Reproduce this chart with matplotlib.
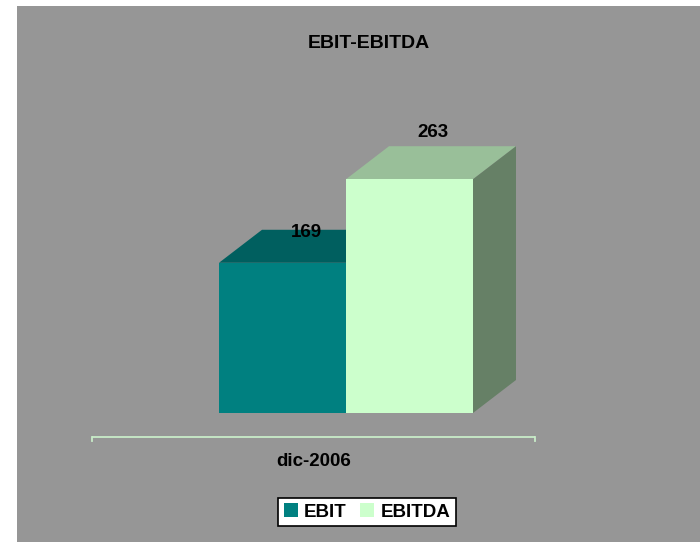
import numpy as np
import matplotlib
matplotlib.use("Agg")
from matplotlib import pyplot as plt
from matplotlib.patches import Polygon, Rectangle

# data
categories = ["dic-2006"]
series_names = ["EBIT", "EBITDA"]
series_values = [169, 263]
title_text = "EBIT-EBITDA"

# styles
front_colors = ["#008080", "#ccffcc"]
top_colors = ["#005f5f", "#99bf99"]
side_colors = ["#004d4d", "#668066"]
label_lift_px = [-3, 14]  # lift of value labels above the back edge
bg_color = "#969696"
axis_color = "#c8ecc8"

plt.rcParams['font.family'] = ['Liberation Sans', 'DejaVu Sans']

W, H = 700, 542
fig = plt.figure(figsize=(W / 100, H / 100), dpi=100)
fig.patch.set_facecolor("white")
# gray chart area
fig.patches.append(Rectangle((17 / W, 0), 1 - 17 / W, 1 - 6 / H,
        transform=fig.transFigure, facecolor=bg_color, edgecolor="none",
        zorder=-5))

# axes: x pixel 92..535, y value 0 at pixel 413, 0.8889 px per unit
px_per_unit = 0.8889
ymax = 320
ax_left, ax_right = 92, 535
ax_bottom_px = 413
ax_top_px = ax_bottom_px - ymax * px_per_unit
ax = fig.add_axes([ax_left / W, (H - ax_bottom_px) / H,
        (ax_right - ax_left) / W, (ax_bottom_px - ax_top_px) / H])
ax.set_zorder(2)
ax.set_xlim(-0.5, 0.5)
ax.set_ylim(0, ymax)
ax.axis('off')

xscale = ax_right - ax_left  # px per data unit in x
bar_w = 127 / xscale
first_left = (219 - ax_left) / xscale - 0.5
dx = 43 / xscale
dy = 33 / px_per_unit

for i, (name, val) in enumerate(zip(series_names, series_values)):
    left = first_left + i * bar_w
    ax.bar(left, val, width=bar_w, align='edge', color=front_colors[i],
            label=name, zorder=3 + i, clip_on=False, linewidth=0)
    top = Polygon([(left, val), (left + bar_w, val),
            (left + bar_w + dx, val + dy), (left + dx, val + dy)],
            closed=True, facecolor=top_colors[i], edgecolor="none",
            zorder=2 + i, clip_on=False)
    ax.add_patch(top)
    side = Polygon([(left + bar_w, 0), (left + bar_w + dx, dy),
            (left + bar_w + dx, val + dy), (left + bar_w, val)],
            closed=True, facecolor=side_colors[i], edgecolor="none",
            zorder=2 + i, clip_on=False)
    ax.add_patch(side)
    # value label
    ax.text(left + bar_w / 2 + 0.55 * dx,
            val + dy + label_lift_px[i] / px_per_unit, str(val),
            ha='center', va='center', fontsize=13.5, fontweight='bold',
            zorder=10, clip_on=False)

# category axis line below floor
axis_y = -27
tick_y = -32
ax.plot([-0.5, 0.5], [axis_y, axis_y], color=axis_color, lw=1.3,
        clip_on=False, solid_capstyle='butt')
for xt in (-0.5, 0.5):
    ax.plot([xt, xt], [axis_y, tick_y], color=axis_color, lw=1.3,
            clip_on=False)
ax.text(0, -54, categories[0], ha='center', va='center', fontsize=13.5,
        fontweight='bold', clip_on=False)

fig.text(369 / W, 1 - 43 / H, title_text, ha='center', va='center',
        fontsize=14, fontweight='bold')

leg = fig.legend(loc='center', bbox_to_anchor=(367 / W, 1 - 512 / H),
        ncol=2, frameon=True, fancybox=False, framealpha=1,
        handlelength=0.75, handleheight=0.75, handletextpad=0.35,
        columnspacing=0.7, borderpad=0.3, borderaxespad=0,
        prop={'size': 13.5, 'weight': 'bold'})
leg.get_frame().set_edgecolor("black")
leg.get_frame().set_linewidth(1.2)
leg.get_frame().set_facecolor("white")

fig.savefig("out.png", dpi=100, facecolor=fig.get_facecolor())
